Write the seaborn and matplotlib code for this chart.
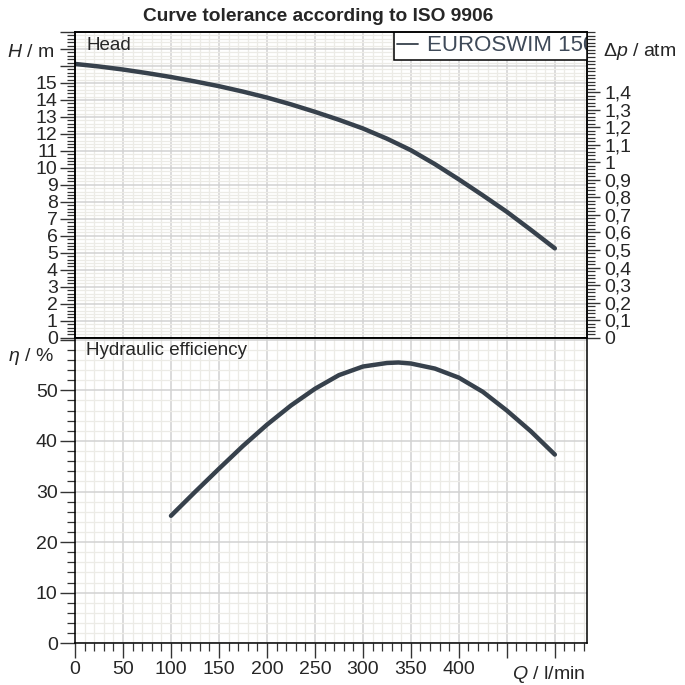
import numpy as np
import pandas as pd
import matplotlib
matplotlib.use("Agg")
import matplotlib.pyplot as plt
import matplotlib.ticker as mticker
from matplotlib.lines import Line2D
import seaborn as sns

# ---------------- data ----------------
q_head = [0, 25, 50, 75, 100, 125, 150, 175, 200, 225, 250, 275, 300, 325, 350, 375, 400,
          425, 450, 475, 500]
head_m = [16.12, 15.97, 15.79, 15.58, 15.35, 15.09, 14.81, 14.49, 14.14, 13.74, 13.30, 12.83,
          12.32, 11.72, 11.04, 10.22, 9.32, 8.38, 7.41, 6.35, 5.26]

q_eff = [100, 125, 150, 175, 200, 225, 250, 275, 300, 325, 337, 350, 375, 400, 425, 450, 475, 500]
eff_pct = [25.2, 29.9, 34.5, 39.0, 43.2, 47.0, 50.3, 53.0, 54.7, 55.4, 55.5, 55.3, 54.3, 52.5,
           49.7, 46.0, 41.9, 37.3]

q_ticks = [0, 50, 100, 150, 200, 250, 300, 350, 400]
head_ticks = list(range(0, 16))
dp_ticks = [0, 0.1, 0.2, 0.3, 0.4, 0.5, 0.6, 0.7, 0.8, 0.9, 1.0, 1.1, 1.2, 1.3, 1.4]
eff_ticks = [0, 10, 20, 30, 40, 50]

series_name = "EUROSWIM 150"
title = "Curve tolerance according to ISO 9906"
M_PER_ATM = 10.33

# ---------------- style ----------------
sns.set_theme(style="white")
plt.rcParams["font.family"] = ["Liberation Sans", "DejaVu Sans"]
plt.rcParams["mathtext.fontset"] = "custom"
plt.rcParams["mathtext.rm"] = "Liberation Sans"
plt.rcParams["mathtext.it"] = "Liberation Sans:italic"

LINE_C = "#37414c"
MAJ_GRID = "#d2d2d2"
MIN_GRID = "#ecebe6"
FS = 14
FS_TXT = 13.5

fig = plt.figure(figsize=(6.85, 6.85), dpi=100)
W_PX = 685.0
L = 75 / W_PX
R = 587 / W_PX
ax_top = fig.add_axes([L, 1 - 337.7 / W_PX, R - L, (337.7 - 32) / W_PX])
ax_bot = fig.add_axes([L, 1 - 643.3 / W_PX, R - L, (643.3 - 337.7) / W_PX])

XMAX = 533.5

for ax in (ax_top, ax_bot):
    ax.set_xlim(0, XMAX)
    ax.set_axisbelow(True)
    ax.xaxis.set_major_locator(mticker.MultipleLocator(50))
    ax.xaxis.set_minor_locator(mticker.MultipleLocator(10))
    ax.grid(which="major", color=MAJ_GRID, lw=1.1)
    ax.grid(which="minor", color=MIN_GRID, lw=0.9)
    for s in ax.spines.values():
        s.set_color("black")
        s.set_linewidth(1.1)
        s.set_visible(True)

# ---------------- top panel: head ----------------
sns.lineplot(x=q_head, y=head_m, ax=ax_top, color=LINE_C, linewidth=3.2,
             solid_capstyle="round", legend=False, sort=False)
ax_top.set_ylim(0, 18)
ax_top.yaxis.set_major_locator(mticker.MultipleLocator(1))
ax_top.yaxis.set_minor_locator(mticker.MultipleLocator(0.2))
ax_top.yaxis.set_major_formatter(
    mticker.FuncFormatter(lambda v, p: f"{int(round(v))}" if round(v) in head_ticks else ""))
ax_top.tick_params(axis="x", which="both", length=0, labelbottom=False)
ax_top.tick_params(axis="y", which="major", direction="out", length=10.5, width=1,
                   color="#333333", pad=2.0, labelsize=FS, left=True)
ax_top.tick_params(axis="y", which="minor", direction="out", length=5.5, width=0.9,
                   color="#333333", left=True)
ax_top.set_xlabel("")
ax_top.set_ylabel("")

ax_dp = ax_top.twinx()
ax_dp.set_ylim(0, 18 / M_PER_ATM)
ax_dp.yaxis.set_major_locator(mticker.FixedLocator(dp_ticks))
ax_dp.yaxis.set_minor_locator(mticker.MultipleLocator(0.02))
ax_dp.set_yticklabels([f"{v:g}".replace(".", ",") for v in dp_ticks])
ax_dp.tick_params(axis="y", which="major", direction="out", length=9.5, width=1,
                  color="#333333", pad=3.0, labelsize=FS, right=True)
ax_dp.tick_params(axis="y", which="minor", direction="out", length=5.5, width=0.9,
                  color="#333333", right=True)
ax_dp.grid(False)
for s in ax_dp.spines.values():
    s.set_color("black")
    s.set_linewidth(1.1)

ytr = ax_top.get_yaxis_transform()
ax_top.text(-21 / 512, 16.8, r"$H$ / m", transform=ytr, ha="right", va="center", fontsize=FS)
ax_top.text(1 + 16 / 512, 16.85, r"$\Delta p$ / atm", transform=ytr, ha="left", va="center",
            fontsize=FS)
ax_top.text(11 / 512, 0.941, "Head", transform=ax_top.transAxes, ha="left", va="baseline",
            fontsize=FS_TXT)

leg = ax_top.legend(handles=[Line2D([], [], color=LINE_C, lw=1.3)], labels=[series_name],
                    loc="upper left", bbox_to_anchor=((394 - 75) / 512, 1.0),
                    borderaxespad=0, fancybox=False, framealpha=1, edgecolor="black",
                    fontsize=16, handlelength=0.95, handletextpad=0.4, borderpad=0.15,
                    labelcolor="#3f4a59")
leg.get_frame().set_linewidth(1.1)
leg.set_zorder(10)
for a in leg.findobj():
    a.set_clip_box(ax_top.bbox)
    a.set_clip_on(True)

# ---------------- bottom panel: efficiency ----------------
sns.lineplot(x=q_eff, y=eff_pct, ax=ax_bot, color=LINE_C, linewidth=3.2,
             solid_capstyle="round", legend=False, sort=False)
ax_bot.set_ylim(0, 60.4)
ax_bot.yaxis.set_major_locator(mticker.MultipleLocator(10))
ax_bot.yaxis.set_minor_locator(mticker.MultipleLocator(2))
ax_bot.yaxis.set_major_formatter(
    mticker.FuncFormatter(lambda v, p: f"{int(round(v))}" if round(v) in eff_ticks else ""))
ax_bot.xaxis.set_major_formatter(
    mticker.FuncFormatter(lambda v, p: f"{int(round(v))}" if round(v) in q_ticks else ""))
ax_bot.tick_params(axis="both", which="major", direction="out", length=10.5, width=1,
                   color="#333333", pad=2.0, labelsize=FS, left=True, bottom=True)
ax_bot.tick_params(axis="both", which="minor", direction="out", length=5.5, width=0.9,
                   color="#333333", left=True, bottom=True)
ax_bot.set_xlabel("")
ax_bot.set_ylabel("")

ytr_b = ax_bot.get_yaxis_transform()
ax_bot.text(-21 / 512, 56.6, r"$\eta$ / %", transform=ytr_b, ha="right", va="center", fontsize=FS)
ax_bot.text(11 / 512, 0.9424, "Hydraulic efficiency", transform=ax_bot.transAxes,
            ha="left", va="baseline", fontsize=FS_TXT)
fig.text(585 / W_PX, 1 - 679.3 / W_PX, r"$Q$ / l/min", ha="right", va="baseline", fontsize=FS)

fig.text(318 / W_PX, 1 - 20.7 / W_PX, title, ha="center", va="baseline", fontsize=13.8,
         fontweight="bold")

fig.savefig("out.png", dpi=100, facecolor="white")
